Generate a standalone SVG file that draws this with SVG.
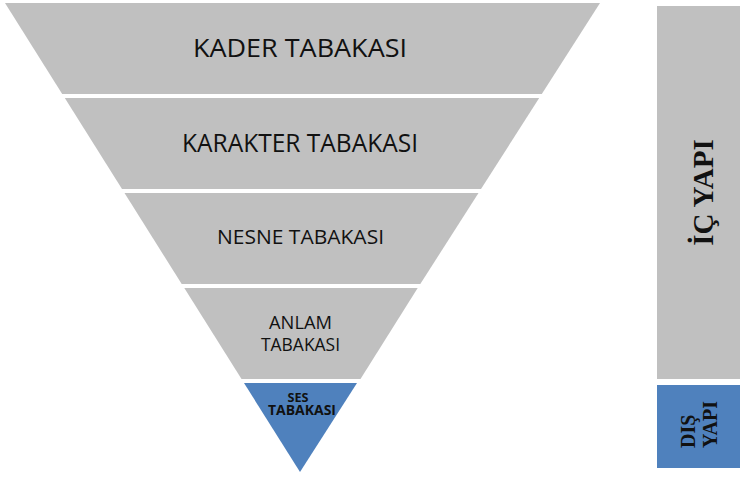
<svg xmlns="http://www.w3.org/2000/svg" width="740" height="477" viewBox="0 0 740 477">
  <style>
    .gray { fill: #C0C0C0; }
    .blue { fill: #4F81BD; }
    .sans { font-family: "Open Sans", "Noto Sans", "Liberation Sans", sans-serif; fill: #111; text-anchor: middle; }
    .serif { font-family: "Liberation Serif", "DejaVu Serif", serif; font-weight: bold; fill: #111; }
  </style>
  <rect x="0" y="0" width="740" height="477" fill="#FFFFFF"/>
  <g id="kader-tabakasi">
    <polygon class="gray" points="5,3 600,3 541.8,94 62.2,94"/>
    <text class="sans" x="300" y="57" font-size="26" textLength="214" lengthAdjust="spacingAndGlyphs">KADER TABAKASI</text>
  </g>
  <g id="karakter-tabakasi">
    <polygon class="gray" points="64.8,98 539.2,98 481,189 122,189"/>
    <text class="sans" x="300" y="152" font-size="26" textLength="236" lengthAdjust="spacingAndGlyphs">KARAKTER TABAKASI</text>
  </g>
  <g id="nesne-tabakasi">
    <polygon class="gray" points="124.5,193 478.5,193 420.3,284 181.7,284"/>
    <text class="sans" x="300.5" y="244" font-size="19.5" textLength="167" lengthAdjust="spacingAndGlyphs">NESNE TABAKASI</text>
  </g>
  <g id="anlam-tabakasi">
    <polygon class="gray" points="184.3,288 417.7,288 360.5,379 241.5,379"/>
    <text class="sans" x="300.5" y="329" font-size="18" textLength="63" lengthAdjust="spacingAndGlyphs">ANLAM</text>
    <text class="sans" x="300.5" y="351" font-size="18" textLength="79" lengthAdjust="spacingAndGlyphs">TABAKASI</text>
  </g>
  <g id="ses-tabakasi">
    <polygon class="blue" points="244,383 357,383 300,472"/>
    <text class="sans" x="298" y="402" font-size="13" font-weight="bold" textLength="21" lengthAdjust="spacingAndGlyphs">SES</text>
    <text class="sans" x="302" y="415" font-size="13.5" font-weight="bold" textLength="68" lengthAdjust="spacingAndGlyphs">TABAKASI</text>
  </g>
  <g id="ic-yapi">
    <rect class="gray" x="657" y="6" width="90" height="373"/>
    <text class="serif" transform="translate(713,192.5) rotate(-90)" x="0" y="0" font-size="29" text-anchor="middle">İÇ YAPI</text>
  </g>
  <g id="dis-yapi">
    <rect class="blue" x="657" y="385" width="90" height="83"/>
    <text class="serif" transform="translate(695,448) rotate(-90)" x="0" y="0" font-size="20">DIŞ</text>
    <text class="serif" transform="translate(717,448) rotate(-90)" x="0" y="0" font-size="20">YAPI</text>
  </g>
  <g id="connectors"/>
</svg>
